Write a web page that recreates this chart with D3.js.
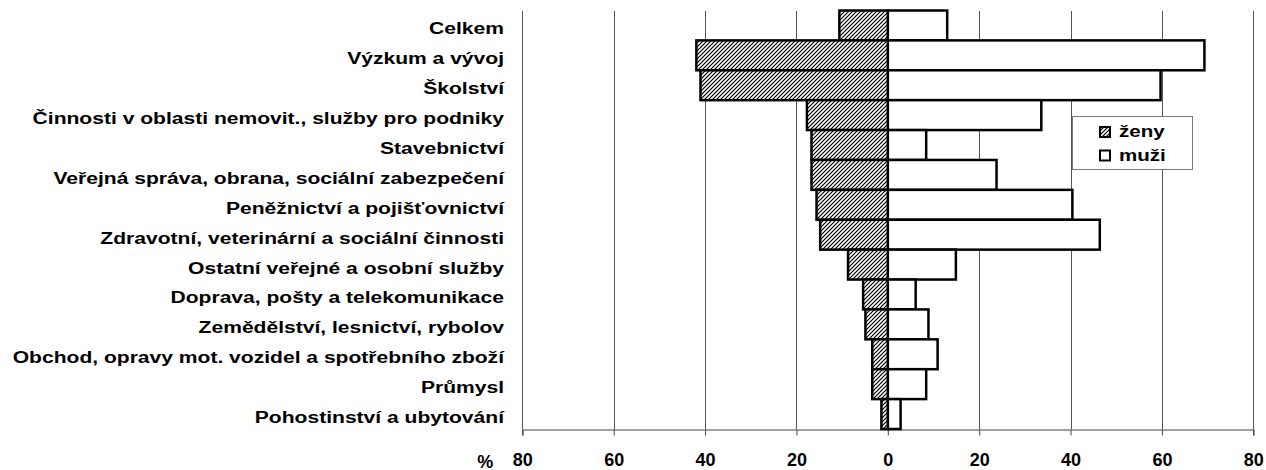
<!DOCTYPE html>
<html>
<head>
<meta charset="utf-8">
<script src="https://cdn.jsdelivr.net/npm/d3@7"></script>
<style>
    body { margin: 0; background: #fff; }
    svg text { font-family: "Liberation Sans", Arial, sans-serif; font-weight: bold; fill: #000; }
</style>
</head>
<body>
<div id="chart"></div>
<script>
const categories = [
    "Celkem",
    "Výzkum a vývoj",
    "Školství",
    "Činnosti v oblasti nemovit., služby pro podniky",
    "Stavebnictví",
    "Veřejná správa, obrana, sociální zabezpečení",
    "Peněžnictví a pojišťovnictví",
    "Zdravotní, veterinární a sociální činnosti",
    "Ostatní veřejné a osobní služby",
    "Doprava, pošty a telekomunikace",
    "Zemědělství, lesnictví, rybolov",
    "Obchod, opravy mot. vozidel a spotřebního zboží",
    "Průmysl",
    "Pohostinství a ubytování"
];
const zeny = [10.6, 41.9, 41.0, 17.7, 16.7, 16.7, 15.6, 14.8, 8.7, 5.4, 4.9, 3.4, 3.4, 1.4];
const muzi = [13.0, 69.3, 59.7, 33.6, 8.4, 23.8, 40.4, 46.4, 14.9, 6.1, 8.9, 10.9, 8.4, 2.8];
const tickValues = [-80, -60, -40, -20, 0, 20, 40, 60, 80];
const seriesNames = ["ženy", "muži"];

// labels in the original are rendered wide, stretch them a bit
const textStretch = 1.24;

class PyramidChart {
    constructor(_parentElement) {
        this.parentElement = _parentElement;
        this.data = categories.map((c, i) => ({ name: c, zeny: zeny[i], muzi: muzi[i] }));
        this.initVis();
    }

    initVis() {
        const vis = this;

        vis.svg = d3.select(vis.parentElement).append("svg")
            .attr("width", 1266)
            .attr("height", 470);

        // hatch for women
        vis.svg.append("defs").append("pattern")
            .attr("id", "hatch")
            .attr("patternUnits", "userSpaceOnUse")
            .attr("width", 4)
            .attr("height", 4)
            .call(p => p.append("rect").attr("width", 4).attr("height", 4).attr("fill", "#fff"))
            .append("path")
            .attr("d", "M-1,1 l2,-2 M0,4 l4,-4 M3,5 l2,-2")
            .attr("stroke", "#000")
            .attr("stroke-width", 1.2);

        vis.x = d3.scaleLinear()
            .domain([-80, 80])
            .range([522.3, 1253.3]);

        vis.y = d3.scaleBand()
            .domain(categories)
            .range([10.5, 429])
            .padding(0);

        // gridlines
        vis.svg.append("g").attr("class", "grid")
            .selectAll("line")
            .data(tickValues)
            .enter().append("line")
            .attr("x1", d => Math.round(vis.x(d)) + 0.5)
            .attr("x2", d => Math.round(vis.x(d)) + 0.5)
            .attr("y1", 11)
            .attr("y2", 429)
            .attr("stroke", "#555")
            .attr("stroke-width", 1);

        vis.xAxis = d3.axisBottom(vis.x)
            .tickValues(tickValues)
            .tickFormat(d => Math.abs(d))
            .tickSize(6)
            .tickPadding(18);

        vis.svg.append("g")
            .attr("class", "x axis")
            .attr("transform", "translate(0,429.5)");

        vis.updateVis();
    }

    updateVis() {
        const vis = this;

        const ax = vis.svg.select(".x.axis").call(vis.xAxis);
        ax.select(".domain").attr("stroke", "#444").attr("stroke-width", 1.2);
        ax.selectAll(".tick line").attr("stroke", "#444");
        ax.selectAll("text")
            .attr("font-size", 18)
            .attr("font-family", "Liberation Sans, Arial, sans-serif")
            .attr("font-weight", "bold")
            .attr("fill", "#000");

        ax.append("text")
            .attr("x", vis.x(-80) - 37)
            .attr("y", 38)
            .attr("font-size", 18)
            .attr("text-anchor", "middle")
            .attr("fill", "#000")
            .text("%");

        // men bars
        vis.svg.selectAll(".bar-m")
            .data(vis.data)
            .enter().append("rect")
            .attr("class", "bar-m")
            .attr("x", vis.x(0))
            .attr("y", d => vis.y(d.name))
            .attr("width", d => vis.x(d.muzi) - vis.x(0))
            .attr("height", vis.y.bandwidth())
            .attr("fill", "#fff")
            .attr("stroke", "#000")
            .attr("stroke-width", 2.5);

        // women bars
        vis.svg.selectAll(".bar-z")
            .data(vis.data)
            .enter().append("rect")
            .attr("class", "bar-z")
            .attr("x", d => vis.x(-d.zeny))
            .attr("y", d => vis.y(d.name))
            .attr("width", d => vis.x(0) - vis.x(-d.zeny))
            .attr("height", vis.y.bandwidth())
            .attr("fill", "url(#hatch)")
            .attr("stroke", "#000")
            .attr("stroke-width", 2.5);

        // category labels
        vis.svg.selectAll(".cat")
            .data(categories)
            .enter().append("text")
            .attr("class", "cat")
            .attr("transform", d => `translate(504,${vis.y(d) + vis.y.bandwidth() / 2 + 9}) scale(${textStretch},1)`)
            .attr("text-anchor", "end")
            .attr("font-size", 17)
            .text(d => d);

        // legend
        const lg = vis.svg.append("g").attr("class", "legend");
        lg.append("rect")
            .attr("x", 1072.5).attr("y", 116.5)
            .attr("width", 120).attr("height", 53)
            .attr("fill", "#fff")
            .attr("stroke", "#777")
            .attr("stroke-width", 1);

        const items = lg.selectAll(".item")
            .data(seriesNames)
            .enter().append("g")
            .attr("transform", (d, i) => `translate(1100,${127 + i * 23.5})`);

        items.append("rect")
            .attr("width", 10).attr("height", 10)
            .attr("fill", (d, i) => i === 0 ? "url(#hatch)" : "#fff")
            .attr("stroke", "#000")
            .attr("stroke-width", 2);

        items.append("text")
            .attr("transform", `translate(19,10) scale(1.21,1)`)
            .attr("font-size", 17)
            .text(d => d);
    }
}

new PyramidChart("#chart");
</script>
</body>
</html>
